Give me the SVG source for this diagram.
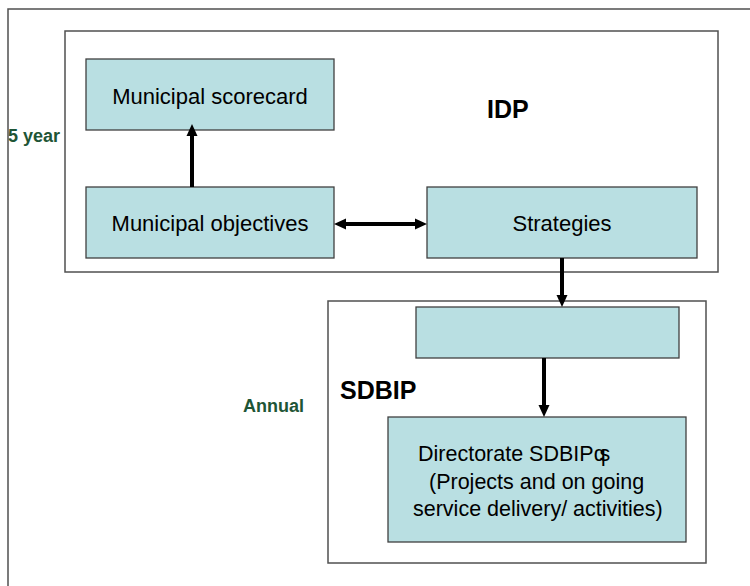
<svg xmlns="http://www.w3.org/2000/svg" width="750" height="586" viewBox="0 0 750 586">
<style>
.frame{fill:none;stroke:#505050;stroke-width:1.5}
.box{fill:#b9dfe2;stroke:#404040;stroke-width:1.3}
.lbl{font-family:"Liberation Sans",Arial,sans-serif;font-size:22px;fill:#000}
.title{font-family:"Liberation Sans",Arial,sans-serif;font-size:25px;font-weight:bold;fill:#000}
.side{font-family:"Liberation Sans",Arial,sans-serif;font-size:18px;font-weight:bold;fill:#1e5536}
.conn{fill:none;stroke:#000;stroke-width:4;marker-end:url(#ah)}
</style>
<defs>
<marker id="ah" markerUnits="userSpaceOnUse" markerWidth="12" markerHeight="12" refX="2" refY="6" orient="auto-start-reverse">
<path d="M0,0.5 L12,6 L0,11.5 z" fill="#000"/>
</marker>
</defs>
<rect width="750" height="586" fill="#fff"/>
<rect class="frame" x="8" y="9" width="770" height="620"/>
<g id="idp-frame">
<rect class="frame" x="65" y="31" width="653" height="241"/>
<text class="title" x="487" y="118">IDP</text>
</g>
<g id="five-year"><text class="side" x="8" y="142">5 year</text></g>
<g id="sdbip-frame">
<rect class="frame" x="328" y="301" width="378" height="262"/>
<text class="title" x="340" y="399">SDBIP</text>
</g>
<g id="annual"><text class="side" x="243" y="412">Annual</text></g>
<g id="scorecard">
<rect class="box" x="86" y="59" width="248" height="71"/>
<text class="lbl" x="210" y="104" text-anchor="middle">Municipal scorecard</text>
</g>
<g id="objectives">
<rect class="box" x="86" y="187" width="248" height="71"/>
<text class="lbl" x="210" y="231" text-anchor="middle">Municipal objectives</text>
</g>
<g id="strategies">
<rect class="box" x="427" y="187" width="270" height="71"/>
<text class="lbl" x="562" y="231" text-anchor="middle">Strategies</text>
</g>
<g id="empty-box">
<rect class="box" x="416" y="307" width="263" height="51"/>
</g>
<g id="directorate">
<rect class="box" x="388" y="417" width="298" height="125"/>
<text class="lbl" style="font-size:21.5px" x="418" y="461">Directorate SDBIPq<tspan dx="-6">s</tspan></text>
<text class="lbl" style="font-size:21.5px" x="429" y="489">(Projects and on going</text>
<text class="lbl" style="font-size:21.5px" x="413" y="516">service delivery/ activities)</text>
</g>
<g id="connectors">
<line class="conn" x1="192" y1="187" x2="192" y2="134"/>
<line class="conn" x1="344" y1="224" x2="417" y2="224" style="marker-start:url(#ah)"/>
<line class="conn" x1="562" y1="258" x2="562" y2="297"/>
<line class="conn" x1="544" y1="358" x2="544" y2="407"/>
</g>
</svg>
